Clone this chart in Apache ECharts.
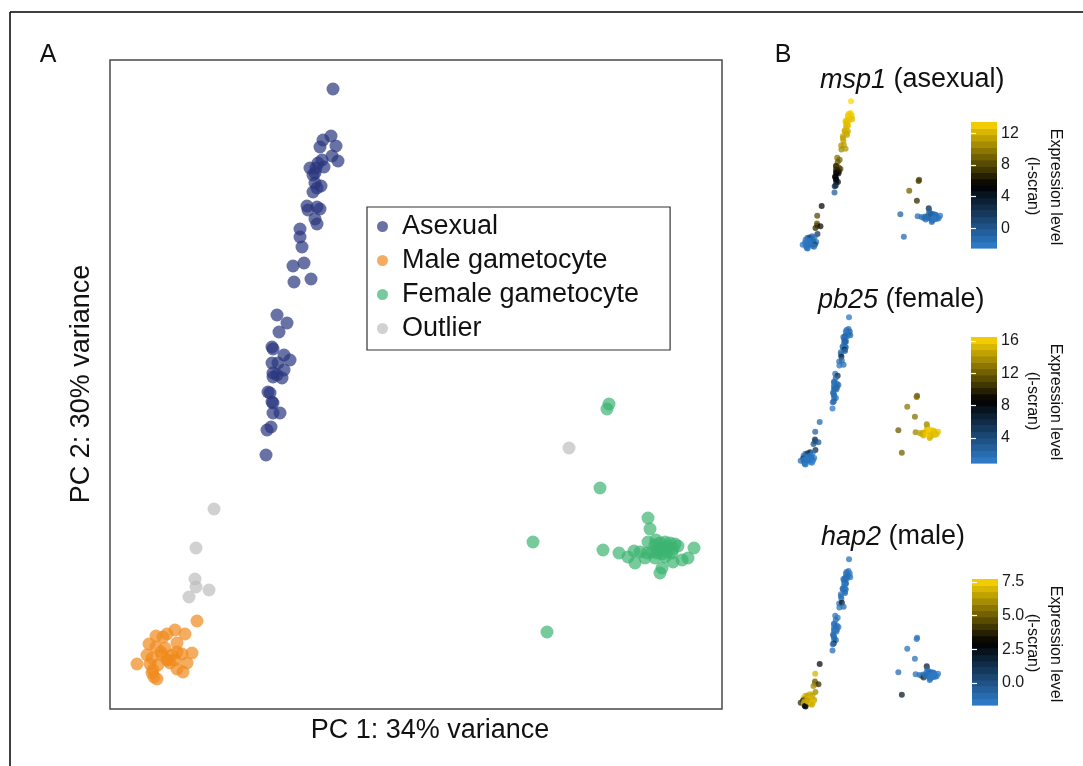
<!DOCTYPE html>
<html><head><meta charset="utf-8">
<script src="https://cdn.jsdelivr.net/npm/echarts@6/dist/echarts.min.js"></script>
<style>html,body{margin:0;padding:0;background:#fff}#c{width:1083px;height:766px}</style>
</head><body><div id="c"></div>
<script>
// ---------- DATA ----------
const groupNames = ['Asexual', 'Male gametocyte', 'Female gametocyte', 'Outlier'];
const pc1Range = [-30.6, 30.6];
const pc2Range = [-32.4, 32.5];

const asexualPC = [
[-8.3,29.6],[-8.5,24.9],[-9.3,24.5],[-8.0,23.9],[-9.6,23.8],[-8.4,22.9],[-7.8,22.4],[-9.4,22.5],[-9.8,22.2],[-9.2,21.8],
[-10.6,21.7],[-10.0,21.7],[-10.1,21.2],[-10.3,21.0],[-10.1,20.2],[-9.5,19.9],[-9.9,19.7],[-10.3,19.3],[-10.9,17.9],[-9.9,17.8],
[-10.8,17.5],[-9.6,17.6],[-10.1,16.6],[-9.9,16.1],[-11.6,15.6],[-11.6,14.8],[-11.4,13.8],[-12.3,11.9],[-11.2,12.2],[-12.2,10.3],
[-10.5,10.6],[-13.9,7.0],[-12.9,6.2],[-13.7,5.3],[-14.4,3.8],[-14.3,3.6],[-13.2,3.0],[-12.6,2.5],[-14.4,2.2],[-13.8,2.2],
[-13.2,1.5],[-14.3,1.2],[-13.9,1.0],[-13.4,0.7],[-14.3,0.8],[-14.8,-0.7],[-14.6,-0.8],[-14.4,-1.7],[-14.3,-1.8],[-14.3,-2.8],
[-13.6,-2.8],[-14.5,-4.2],[-14.9,-4.5],[-15.0,-7.0]
];
const malePC = [
[-21.9,-23.6],[-24.1,-24.5],[-24.9,-24.9],[-23.1,-24.9],[-26.0,-25.1],[-25.3,-25.2],[-26.7,-25.9],[-23.9,-25.8],[-26.0,-26.2],[-25.1,-26.3],
[-25.5,-26.7],[-23.9,-26.7],[-22.4,-26.8],[-26.9,-27.0],[-24.4,-27.0],[-23.4,-26.9],[-26.4,-27.3],[-24.8,-27.5],[-24.1,-27.5],[-27.9,-27.9],
[-26.6,-27.9],[-25.8,-28.0],[-24.6,-27.8],[-22.9,-27.8],[-26.3,-28.5],[-23.9,-28.4],[-26.4,-28.8],[-23.3,-28.7],[-26.2,-29.2],[-25.9,-29.4],
[-24.9,-27.5],[-25.4,-27.0]
];
const femalePC = [
[19.3,-1.9],[19.1,-2.4],[18.4,-10.3],[23.2,-13.3],[11.7,-15.7],[23.4,-14.4],[18.7,-16.5],[20.3,-16.8],[21.8,-16.6],[21.2,-17.2],
[21.9,-17.8],[23.1,-16.8],[27.8,-16.3],[27.2,-17.3],[26.6,-17.5],[25.7,-17.7],[24.4,-18.8],[24.6,-18.3],[13.1,-24.7],[23.2,-15.7],
[23.9,-16.0],[24.4,-15.8],[24.9,-15.7],[25.4,-15.8],[25.9,-15.9],[26.2,-16.1],[24.2,-16.4],[24.7,-16.3],[25.2,-16.2],[25.7,-16.4],
[23.6,-16.7],[24.1,-16.8],[24.6,-16.9],[25.1,-16.7],[25.6,-16.8],[22.4,-16.7],[22.9,-17.3],[23.9,-17.3],[24.9,-17.2],[24.0,-15.5]
];
const outlierPC = [[-20.2,-12.4],[-22.0,-16.3],[-22.1,-19.4],[-22.0,-20.2],[-20.7,-20.5],[-22.7,-21.2],[15.3,-6.3]];

// expression (l-scran) per cell, same order as the PC arrays
const msp1Asexual = [13.4,13.1,12.9,12.8,13.0,12.7,12.5,12.9,12.7,12.6,12.8,12.9,12.4,12.6,12.3,12.5,12.6,12.3,12.0,12.3,11.8,12.1,11.6,11.9,11.6,11.3,11.5,11.0,11.3,10.6,11.0,9.6,9.2,8.8,7.6,7.2,7.8,8.0,6.8,7.0,6.6,6.2,6.5,6.0,5.8,5.2,5.0,4.8,5.4,4.4,4.6,3.0,2.6,-0.5];
const msp1Male = [2.0,-1.6,-1.9,-1.4,-2.1,1.0,-1.8,-1.5,-2.2,-1.7,-1.9,-1.3,-1.6,-2.0,-1.8,-1.4,-2.1,-1.7,-1.5,-1.9,-2.2,-1.6,-1.8,0.8,-2.0,-1.7,-1.9,-1.5,-2.1,-1.8,-1.6,-2.0];
const msp1Female = [8.0,7.6,7.0,3.0,-0.8,-0.5,-1.5,-1.3,-1.0,-1.6,-1.2,-1.4,-1.8,-1.6,-1.9,-1.5,-1.7,-1.3,-1.2,-1.6,-2.0,-1.4,-0.2,-1.7,-2.2,-1.5,-0.7,-1.8,-1.2,-2.0,-1.6,0.2,-1.3,-1.9,-1.5,-1.1,-1.7,-1.4,-2.1,-0.6];
const msp1Outlier = [5.0,8.2,8.6,8.0,5.8,7.0,9.0];

const pb25Asexual = [1.4,2.0,1.7,2.2,1.6,1.8,2.4,1.3,2.1,1.5,1.9,2.6,1.4,1.8,2.2,1.6,3.2,2.0,1.7,2.3,1.5,1.9,7.0,2.1,2.5,1.8,6.5,1.6,2.2,1.4,2.0,1.8,6.0,2.4,1.5,2.1,1.7,2.3,1.9,1.6,2.7,1.4,2.0,1.8,2.2,1.6,1.9,2.5,1.7,2.1,1.5,3.4,1.8,1.2];
const pb25Male = [6.0,7.0,6.0,1.6,1.2,5.0,1.8,1.0,1.4,2.1,1.3,1.7,1.1,5.5,1.5,1.9,1.2,1.6,1.0,2.0,1.4,1.8,1.1,1.5,1.7,1.3,1.9,1.0,1.6,1.2,1.8,1.4];
const pb25Female = [12.0,12.4,12.8,13.5,12.0,14.5,13.5,14.8,15.2,14.6,15.0,15.5,15.8,15.4,15.6,15.9,15.0,15.3,12.2,15.7,16.0,15.6,16.3,15.8,16.1,15.5,16.4,15.9,16.2,15.7,15.4,16.0,15.8,16.3,15.6,15.2,15.9,16.1,15.5,16.2];
const pb25Outlier = [2.2,2.7,6.0,4.2,3.2,3.7,13.0];

const hap2Asexual = [-1.1,-1.3,-0.9,-1.5,-1.2,-1.0,-1.4,-0.8,-1.2,-1.1,-1.3,-0.9,-1.5,-1.0,-1.2,-0.3,-1.1,-1.4,-0.8,-1.2,-1.0,-1.3,-1.1,-0.9,-1.4,-1.2,-1.0,-1.3,2.2,-1.1,-0.9,-1.2,-1.4,-1.0,-1.1,-1.3,-0.8,-1.2,-1.5,-1.0,-1.1,-0.9,-1.3,-1.2,-1.4,-1.0,-1.1,-0.8,-1.2,-1.3,-0.9,2.0,-1.1,-1.0];
const hap2Male = [6.0,6.8,7.2,6.5,7.0,6.6,7.4,6.9,6.3,7.1,6.7,7.3,6.4,2.5,6.9,7.0,6.6,7.2,6.8,4.0,7.1,6.5,6.9,7.3,6.7,7.0,6.4,6.8,3.0,2.8,7.2,6.6];
const hap2Female = [-1.1,-1.4,-1.2,2.0,-0.9,-0.8,-1.0,-1.2,-1.1,-1.3,4.0,-1.1,-1.2,-1.4,-1.1,-1.3,-1.0,-1.2,2.0,-1.2,-1.4,-0.9,-1.2,-1.5,-1.0,-1.3,-1.1,1.5,-1.2,-1.4,-0.8,-1.1,-1.3,-1.0,-1.5,-1.2,-0.9,-1.1,-1.4,-1.2];
const hap2Outlier = [2.6,7.0,5.0,5.5,4.0,6.0,-1.1];

// colourbar limits and ticks
const msp1Limits = [-2.5, 13.4];
const msp1Ticks = [0, 4, 8, 12];
const pb25Limits = [0.9, 16.5];
const pb25Ticks = [4, 8, 12, 16];
const hap2Limits = [-1.63, 7.72];
const hap2Ticks = [0, 2.5, 5, 7.5];

// ---------- STYLE / LAYOUT ----------
const FONT = "'Liberation Sans', Arial, Helvetica, sans-serif";
const groupColors = ['#2A367D', '#F08A1C', '#3CB371', '#BEBEBE'];
const lowC = '#2F7FCF', midC = '#000000', highC = '#FFD700';
const NBIN = 20;

function hex(c){return [parseInt(c.slice(1,3),16),parseInt(c.slice(3,5),16),parseInt(c.slice(5,7),16)];}
const stops = [hex(lowC), hex(midC), hex(highC)];
function exprColor(v, lim){
  let t = (v - lim[0]) / (lim[1] - lim[0]);
  t = Math.max(0, Math.min(1, t));
  let a, b, u;
  if (t < 0.5) { a = stops[0]; b = stops[1]; u = t * 2; } else { a = stops[1]; b = stops[2]; u = (t - 0.5) * 2; }
  const r = Math.round(a[0] + (b[0]-a[0])*u), g = Math.round(a[1] + (b[1]-a[1])*u), bl = Math.round(a[2] + (b[2]-a[2])*u);
  return 'rgb(' + r + ',' + g + ',' + bl + ')';
}

const groupPC = [asexualPC, malePC, femalePC, outlierPC];
const genes = [
  { name: 'msp1', tail: ' (asexual)', lim: msp1Limits, ticks: msp1Ticks, dec: 0,
    expr: [msp1Asexual, msp1Male, msp1Female, msp1Outlier],
    mini: { left: 796, top: 94 }, bar: { left: 971, top: 122 }, titleY: 80, titleX: 820 },
  { name: 'pb25', tail: ' (female)', lim: pb25Limits, ticks: pb25Ticks, dec: 0,
    expr: [pb25Asexual, pb25Male, pb25Female, pb25Outlier],
    mini: { left: 794, top: 310 }, bar: { left: 971, top: 337 }, titleY: 300, titleX: 818 },
  { name: 'hap2', tail: ' (male)', lim: hap2Limits, ticks: hap2Ticks, dec: 1,
    expr: [hap2Asexual, hap2Male, hap2Female, hap2Outlier],
    mini: { left: 794, top: 552 }, bar: { left: 972, top: 579 }, titleY: 537, titleX: 821 }
];

const grid = [{ left: 110, top: 60, width: 612, height: 649, show: true, borderColor: '#4a4a4a', borderWidth: 1.5, backgroundColor: 'transparent' }];
const xAxis = [{ gridIndex: 0, type: 'value', min: pc1Range[0], max: pc1Range[1], show: false }];
const yAxis = [{ gridIndex: 0, type: 'value', min: pc2Range[0], max: pc2Range[1], show: false }];
const series = [];

groupNames.forEach((g, i) => {
  series.push({
    name: g, type: 'scatter', xAxisIndex: 0, yAxisIndex: 0,
    symbolSize: 13, data: groupPC[i],
    itemStyle: { color: groupColors[i], opacity: 0.7 },
    emphasis: { disabled: true }, silent: true, z: 3
  });
});

genes.forEach((gene, k) => {
  const gi = grid.length;
  grid.push({ left: gene.mini.left, top: gene.mini.top, width: 151, height: 162, show: false });
  xAxis.push({ gridIndex: gi, type: 'value', min: pc1Range[0], max: pc1Range[1], show: false });
  yAxis.push({ gridIndex: gi, type: 'value', min: pc2Range[0], max: pc2Range[1], show: false });
  const data = [];
  groupPC.forEach((pcs, i) => {
    pcs.forEach((p, j) => {
      const v = gene.expr[i][j];
      data.push({ value: [p[0], p[1], v], itemStyle: { color: exprColor(v, gene.lim) } });
    });
  });
  series.push({
    type: 'scatter', xAxisIndex: xAxis.length - 1, yAxisIndex: yAxis.length - 1,
    symbolSize: 6, data, itemStyle: { opacity: 0.75 }, silent: true, emphasis: { disabled: true }, z: 3
  });

  const bi = grid.length;
  grid.push({ left: gene.bar.left, top: gene.bar.top, width: 26, height: 126, show: false });
  xAxis.push({ gridIndex: bi, type: 'value', min: 0, max: 1, show: false });
  const fmt = v => (gene.dec ? Number(v).toFixed(gene.dec) : String(v));
  yAxis.push({
    gridIndex: bi, type: 'value', min: gene.lim[0], max: gene.lim[1], position: 'right', z: 10,
    axisLine: { show: false }, splitLine: { show: false },
    axisTick: { show: true, inside: true, length: 5, customValues: gene.ticks, lineStyle: { color: '#ffffff', width: 1.2 } },
    axisLabel: { show: true, customValues: gene.ticks, formatter: fmt, margin: 4, fontSize: 16, fontFamily: FONT, color: '#1a1a1a' }
  });
  const rightAxis = yAxis.length - 1;
  yAxis.push({
    gridIndex: bi, type: 'value', min: gene.lim[0], max: gene.lim[1], position: 'left', z: 10,
    axisLine: { show: false }, splitLine: { show: false }, axisLabel: { show: false },
    axisTick: { show: true, inside: true, length: 5, customValues: gene.ticks, lineStyle: { color: '#ffffff', width: 1.2 } }
  });
  const bins = [];
  const step = (gene.lim[1] - gene.lim[0]) / NBIN;
  for (let b = 0; b < NBIN; b++) bins.push([gene.lim[0] + b * step, gene.lim[0] + (b + 1) * step]);
  const lim = gene.lim;
  series.push({
    type: 'custom', xAxisIndex: xAxis.length - 1, yAxisIndex: rightAxis, silent: true, z: 2,
    data: bins,
    renderItem: function (params, api) {
      const lo = api.value(0), hi = api.value(1);
      const p0 = api.coord([0, lo]), p1 = api.coord([1, hi]);
      return { type: 'rect', shape: { x: p0[0], y: p1[1], width: p1[0] - p0[0], height: p0[1] - p1[1] + 0.6 },
               style: { fill: exprColor((lo + hi) / 2, lim) } };
    }
  });
});

// ---------- TEXT ----------
const graphic = [
  { type: 'line', shape: { x1: 10, y1: 12, x2: 1083, y2: 12 }, style: { stroke: '#000', lineWidth: 1.5 }, silent: true },
  { type: 'line', shape: { x1: 10, y1: 12, x2: 10, y2: 766 }, style: { stroke: '#000', lineWidth: 1.5 }, silent: true },
  { type: 'text', x: 48, y: 55, style: { text: 'A', font: '25px ' + FONT, fill: '#111', align: 'center', verticalAlign: 'middle' } },
  { type: 'text', x: 783, y: 55, style: { text: 'B', font: '25px ' + FONT, fill: '#111', align: 'center', verticalAlign: 'middle' } },
  { type: 'text', x: 430, y: 731, style: { text: 'PC 1: 34% variance', font: '27px ' + FONT, fill: '#111', align: 'center', verticalAlign: 'middle' } },
  { type: 'text', x: 82, y: 384, rotation: Math.PI / 2, style: { text: 'PC 2: 30% variance', font: '27px ' + FONT, fill: '#111', align: 'center', verticalAlign: 'middle' } }
];
genes.forEach(gene => {
  graphic.push({ type: 'text', x: gene.titleX, y: gene.titleY,
    style: { text: '{i|' + gene.name + '}' + gene.tail, font: '27px ' + FONT, fill: '#111', align: 'left', verticalAlign: 'middle',
      rich: { i: { fontStyle: 'italic', fontSize: 27, fontFamily: FONT, fill: '#111' } } } });
  const cy = gene.bar.top + 63;
  graphic.push({ type: 'text', x: 1055, y: cy + 2, rotation: -Math.PI / 2,
    style: { text: 'Expression level', font: '16px ' + FONT, fill: '#111', align: 'center', verticalAlign: 'middle' } });
  graphic.push({ type: 'text', x: 1032, y: cy + 1, rotation: -Math.PI / 2,
    style: { text: '(l-scran)', font: '16px ' + FONT, fill: '#111', align: 'center', verticalAlign: 'middle' } });
});

const chart = echarts.init(document.getElementById('c'), null, { renderer: 'canvas' });
chart.setOption({
  animation: false,
  backgroundColor: '#ffffff',
  grid, xAxis, yAxis, series, graphic,
  legend: {
    data: groupNames, orient: 'vertical', left: 367, top: 207,
    padding: [6, 31, 8, 10], itemGap: 7, itemWidth: 11, itemHeight: 11, icon: 'circle',
    borderColor: '#333', borderWidth: 1.2, selectedMode: false,
    textStyle: { fontSize: 27, fontFamily: FONT, color: '#111', padding: [0, 0, 0, 9] }
  }
});
</script>
</body></html>
